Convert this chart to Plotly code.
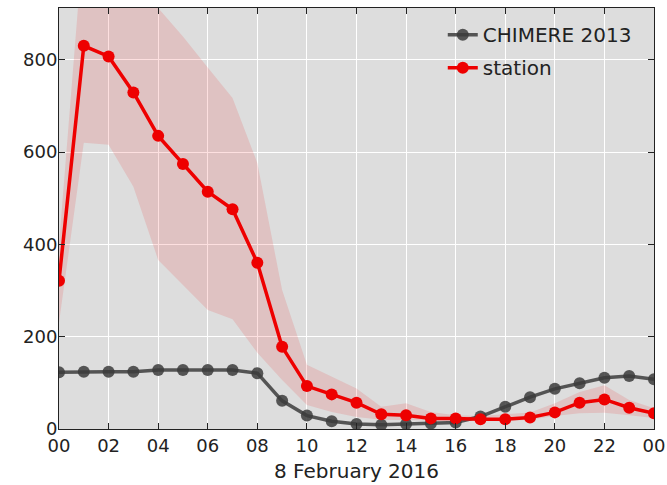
import plotly.graph_objects as go

hours = list(range(25))
tick_vals = [0, 2, 4, 6, 8, 10, 12, 14, 16, 18, 20, 22, 24]
tick_text = ["00", "02", "04", "06", "08", "10", "12", "14", "16", "18", "20", "22", "00"]
y_tick_vals = [0, 200, 400, 600, 800]

station = [321, 830, 807, 729, 635, 574, 514, 476, 360, 178, 93, 75, 57, 32,
           30, 23, 23, 21, 21, 25, 36, 57, 64, 46, 34]
chimere = [123, 124, 124, 124, 128, 128, 128, 128, 121, 61, 29, 17, 11, 9,
           11, 12, 14, 27, 48, 69, 87, 99, 111, 115, 108]
station_upper = [400, 1070, 1040, 980, 912, 850, 783, 717, 576, 301, 139, 113, 88, 48,
                 56, 37, 30, 28, 32, 36, 56, 80, 95, 63, 45]
station_lower = [230, 620, 616, 525, 366, 312, 258, 238, 165, 106, 52, 37, 26, 20,
                 19, 18, 18, 18, 17, 20, 28, 34, 35, 30, 24]

FONT = "DejaVu Sans"
fig = go.Figure()

fig.add_trace(go.Scatter(x=hours, y=station_upper, mode="lines",
                         line=dict(width=0, color="rgba(0,0,0,0)"),
                         showlegend=False, hoverinfo="skip"))
fig.add_trace(go.Scatter(x=hours, y=station_lower, mode="lines",
                         line=dict(width=0, color="rgba(0,0,0,0)"),
                         fill="tonexty", fillcolor="rgba(240,0,0,0.12)",
                         showlegend=False, hoverinfo="skip"))

fig.add_trace(go.Scatter(x=hours, y=chimere, mode="lines+markers", name="CHIMERE 2013",
                         legendgroup="a",
                         line=dict(color="rgba(60,60,60,0.85)", width=3.5),
                         marker=dict(color="rgba(60,60,60,0.85)", size=12,
                                     line=dict(width=0))))
fig.add_trace(go.Scatter(x=hours, y=station, mode="lines+markers", name="station",
                         legendgroup="b",
                         line=dict(color="#ee0000", width=3.5),
                         marker=dict(color="#ee0000", size=12, line=dict(width=0))))

axis_common = dict(showline=True, linecolor="#222222", linewidth=1, mirror="ticks",
                   ticks="inside", ticklen=6, tickcolor="#222222", tickwidth=1,
                   showgrid=True, gridcolor="white", gridwidth=1, zeroline=False,
                   automargin=False,
                   tickfont=dict(family=FONT, size=18, color="#222222"))

fig.update_layout(
    width=667, height=485,
    margin=dict(l=59, r=13, t=8, b=56, autoexpand=False),
    paper_bgcolor="white", plot_bgcolor="#dddddd",
    font=dict(family=FONT, size=20, color="#222222"),
    xaxis=dict(range=[0, 24], tickvals=tick_vals, ticktext=tick_text,
               title=dict(text="8 February 2016", font=dict(family=FONT, size=20), standoff=9),
               **axis_common),
    yaxis=dict(range=[0, 912], tickvals=y_tick_vals, ticklabelstandoff=-3, **axis_common),
    legend=dict(x=0.645, y=0.983, xanchor="left", yanchor="top",
                bgcolor="rgba(0,0,0,0)", font=dict(family=FONT, size=20),
                tracegroupgap=4),
    showlegend=True,
)

fig.write_html("out.html", config={"displayModeBar": False},
               post_script="document.body.style.margin='0';document.body.style.padding='0';")
